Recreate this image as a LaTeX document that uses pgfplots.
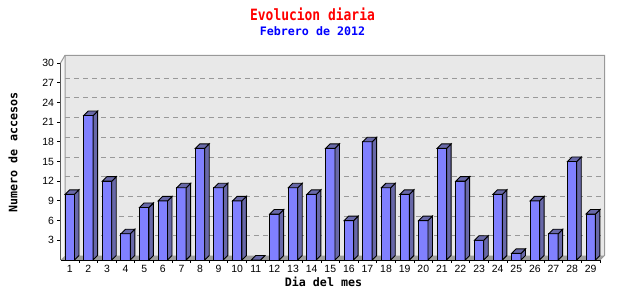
\documentclass[border=0pt]{standalone}
\usepackage{fontspec}
\setmainfont{Liberation Sans}
\newfontfamily\mono{DejaVu Sans Mono}
\usepackage{pgfplots}
\pgfplotsset{compat=1.18}
\definecolor{barfront}{RGB}{128,128,255}
\definecolor{barside}{RGB}{104,104,168}
\definecolor{wall}{RGB}{232,232,232}
\definecolor{wallline}{RGB}{153,153,153}
\definecolor{floorc}{RGB}{158,158,158}
\def\yu{6.5667}
\pgfdeclareplotmark{bar3d}{%
  \pgfmathsetmacro\hh{\ry*\yu}%
  % front face
  \pgfpathrectangle{\pgfpoint{-4.7bp}{-\hh bp}}{\pgfpoint{9.4bp}{\hh bp}}%
  \pgfsetfillcolor{barfront}\pgfusepath{fill,stroke}%
  % side face
  \pgfpathmoveto{\pgfpoint{4.7bp}{-\hh bp}}%
  \pgfpathlineto{\pgfpoint{9.2bp}{-\hh bp+4.5bp}}%
  \pgfpathlineto{\pgfpoint{9.2bp}{4.5bp}}%
  \pgfpathlineto{\pgfpoint{4.7bp}{0bp}}%
  \pgfpathclose
  \pgfsetfillcolor{barside}\pgfusepath{fill,stroke}%
  % top face
  \pgfpathmoveto{\pgfpoint{-4.7bp}{0bp}}%
  \pgfpathlineto{\pgfpoint{4.7bp}{0bp}}%
  \pgfpathlineto{\pgfpoint{9.2bp}{4.5bp}}%
  \pgfpathlineto{\pgfpoint{-0.2bp}{4.5bp}}%
  \pgfpathclose
  \pgfsetfillcolor{barside}\pgfusepath{fill,stroke}%
}
\begin{document}
\begin{tikzpicture}
\useasboundingbox (0,0) rectangle (640bp,300bp);
\begin{axis}[
  at={(60.5bp,40bp)}, anchor=south west, scale only axis,
  width=539.5bp, height=197bp,
  xmin=0.5, xmax=29.5, ymin=0, ymax=30,
  clip=false,
  axis lines*=left,
  axis line style={black, line width=0.9bp},
  xtick={1,...,29},
  major x tick style={draw=none},
  minor xtick={1.5,2.5,...,29.5},
  minor x tick style={black, line width=0.9bp},
  ytick={3,6,...,30},
  major y tick style={black, line width=0.9bp},
  tick align=outside,
  major tick length=3bp, minor tick length=3bp,
  tick label style={font=\fontsize{10.5}{12}\selectfont},
  /pgf/number format/assume math mode=true,
  xticklabel style={yshift=1bp},
]
% back wall
\fill[wall] (axis cs:0.742,0.685) rectangle (axis cs:29.742,31.17);
% left wall
\fill[white!96!black] (axis cs:0.5,0) -- (axis cs:0.742,0.685) -- (axis cs:0.742,31.17) -- (axis cs:0.5,30) -- cycle;
% floor
\fill[floorc] (axis cs:0.5,0) -- (axis cs:29.5,0) -- (axis cs:29.742,0.685) -- (axis cs:0.742,0.685) -- cycle;
% grid lines on the back wall
\pgfplotsinvokeforeach{3,6,9,12,15,18,21,24,27}{
  \draw[wallline, line width=0.9bp, dash pattern=on 5bp off 4bp] (axis cs:0.742,#1+0.685) -- (axis cs:29.742,#1+0.685);
}
\draw[wallline, line width=1bp] (axis cs:0.742,0.685) -- (axis cs:0.742,31.17) -- (axis cs:29.742,31.17) -- (axis cs:29.742,0.685) -- (axis cs:29.5,0);
\draw[wallline, line width=1bp] (axis cs:0.5,30) -- (axis cs:0.742,31.17);
\addplot[only marks, mark=bar3d, mark options={draw=black, line width=0.9bp},
  visualization depends on={rawy \as \ry}] coordinates {
 (1,10) (2,22) (3,12) (4,4) (5,8) (6,9) (7,11) (8,17) (9,11) (10,9)
 (11,0) (12,7) (13,11) (14,10) (15,17) (16,6) (17,18) (18,11) (19,10) (20,6)
 (21,17) (22,12) (23,3) (24,10) (25,1) (26,9) (27,4) (28,15) (29,7)
};
\end{axis}
\node[red] at (312.5bp,286bp) {\scalebox{1}[1.2]{\mono\bfseries\fontsize{13}{15}\selectfont Evolucion diaria}};
\node[blue] at (312.5bp,268.5bp) {\mono\bfseries\fontsize{11.7}{14}\selectfont Febrero de 2012};
\node[rotate=90] at (13bp,147.5bp) {\mono\bfseries\fontsize{11.7}{14}\selectfont Numero de accesos};
\node at (323.5bp,18bp) {\mono\bfseries\fontsize{11.7}{14}\selectfont Dia del mes};
\end{tikzpicture}
\end{document}
